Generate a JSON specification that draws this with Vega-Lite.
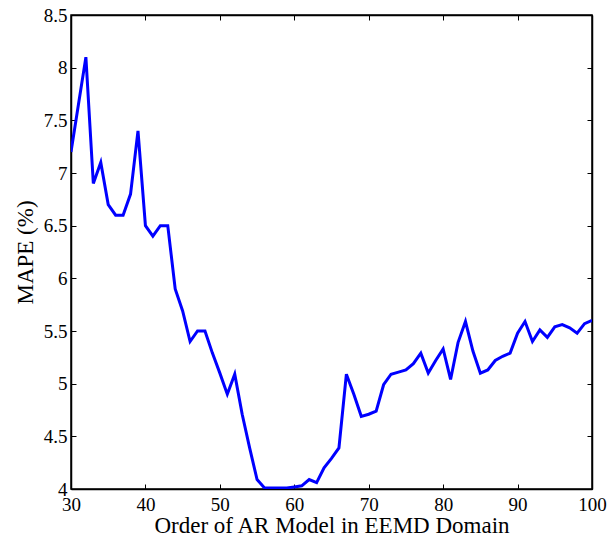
{
  "$schema": "https://vega.github.io/schema/vega-lite/v6.json",
  "width": 521,
  "height": 474,
  "autosize": {"type": "none"},
  "padding": {"left": 71, "top": 15, "right": 16, "bottom": 50},
  "background": "white",
  "config": {
    "font": "Liberation Serif",
    "view": {"stroke": "black", "strokeWidth": 1.5},
    "axis": {
      "grid": false,
      "labelFont": "Liberation Serif",
      "titleFont": "Liberation Serif",
      "labelFontSize": 19,
      "titleFontSize": 23,
      "titleFontWeight": "normal",
      "labelColor": "black",
      "titleColor": "black",
      "domainColor": "black",
      "tickColor": "black",
      "tickSize": -5,
      "tickWidth": 1,
      "domainWidth": 1.5
    }
  },
  "data": {
    "values": [
      {"order": 30, "mape": 7.2},
      {"order": 31, "mape": 7.65},
      {"order": 32, "mape": 8.1},
      {"order": 33, "mape": 6.9},
      {"order": 34, "mape": 7.1},
      {"order": 35, "mape": 6.7},
      {"order": 36, "mape": 6.6},
      {"order": 37, "mape": 6.6},
      {"order": 38, "mape": 6.8},
      {"order": 39, "mape": 7.4},
      {"order": 40, "mape": 6.5},
      {"order": 41, "mape": 6.4},
      {"order": 42, "mape": 6.5},
      {"order": 43, "mape": 6.5},
      {"order": 44, "mape": 5.9},
      {"order": 45, "mape": 5.69},
      {"order": 46, "mape": 5.4},
      {"order": 47, "mape": 5.5},
      {"order": 48, "mape": 5.5},
      {"order": 49, "mape": 5.29},
      {"order": 50, "mape": 5.1},
      {"order": 51, "mape": 4.9},
      {"order": 52, "mape": 5.09},
      {"order": 53, "mape": 4.71},
      {"order": 54, "mape": 4.39},
      {"order": 55, "mape": 4.09},
      {"order": 56, "mape": 4.01},
      {"order": 57, "mape": 4.01},
      {"order": 58, "mape": 4.01},
      {"order": 59, "mape": 4.01},
      {"order": 60, "mape": 4.02},
      {"order": 61, "mape": 4.03},
      {"order": 62, "mape": 4.09},
      {"order": 63, "mape": 4.06},
      {"order": 64, "mape": 4.2},
      {"order": 65, "mape": 4.29},
      {"order": 66, "mape": 4.39},
      {"order": 67, "mape": 5.09},
      {"order": 68, "mape": 4.9},
      {"order": 69, "mape": 4.69},
      {"order": 70, "mape": 4.71},
      {"order": 71, "mape": 4.74},
      {"order": 72, "mape": 4.99},
      {"order": 73, "mape": 5.09},
      {"order": 74, "mape": 5.11},
      {"order": 75, "mape": 5.13},
      {"order": 76, "mape": 5.19},
      {"order": 77, "mape": 5.29},
      {"order": 78, "mape": 5.1},
      {"order": 79, "mape": 5.22},
      {"order": 80, "mape": 5.33},
      {"order": 81, "mape": 5.04},
      {"order": 82, "mape": 5.39},
      {"order": 83, "mape": 5.59},
      {"order": 84, "mape": 5.31},
      {"order": 85, "mape": 5.1},
      {"order": 86, "mape": 5.13},
      {"order": 87, "mape": 5.22},
      {"order": 88, "mape": 5.26},
      {"order": 89, "mape": 5.29},
      {"order": 90, "mape": 5.48},
      {"order": 91, "mape": 5.59},
      {"order": 92, "mape": 5.4},
      {"order": 93, "mape": 5.51},
      {"order": 94, "mape": 5.44},
      {"order": 95, "mape": 5.54},
      {"order": 96, "mape": 5.56},
      {"order": 97, "mape": 5.53},
      {"order": 98, "mape": 5.48},
      {"order": 99, "mape": 5.57},
      {"order": 100, "mape": 5.6}
    ]
  },
  "layer": [
    {
      "mark": {"type": "line", "color": "#0000FF", "strokeWidth": 3, "clip": true},
      "encoding": {
        "x": {
          "field": "order", "type": "quantitative",
          "scale": {"domain": [30, 100], "nice": false, "zero": false},
          "axis": {"title": "Order of AR Model in EEMD Domain", "values": [30, 40, 50, 60, 70, 80, 90, 100], "labelPadding": 11, "titlePadding": 0, "labelFlush": false, "labelOverlap": false}
        },
        "y": {
          "field": "mape", "type": "quantitative",
          "scale": {"domain": [4, 8.5], "nice": false, "zero": false},
          "axis": {"title": "MAPE (%)", "values": [4, 4.5, 5, 5.5, 6, 6.5, 7, 7.5, 8, 8.5], "labelExpr": "datum.value + ''", "labelPadding": 9, "titlePadding": 6, "labelFlush": false, "labelOverlap": false}
        }
      }
    },
    {
      "mark": {"type": "line", "strokeOpacity": 0},
      "encoding": {
        "x": {
          "field": "order", "type": "quantitative",
          "axis": {"orient": "top", "title": null, "labels": false, "values": [30, 40, 50, 60, 70, 80, 90, 100]}
        },
        "y": {
          "field": "mape", "type": "quantitative",
          "axis": {"orient": "right", "title": null, "labels": false, "values": [4, 4.5, 5, 5.5, 6, 6.5, 7, 7.5, 8, 8.5]}
        }
      }
    }
  ],
  "resolve": {"axis": {"x": "independent", "y": "independent"}}
}
